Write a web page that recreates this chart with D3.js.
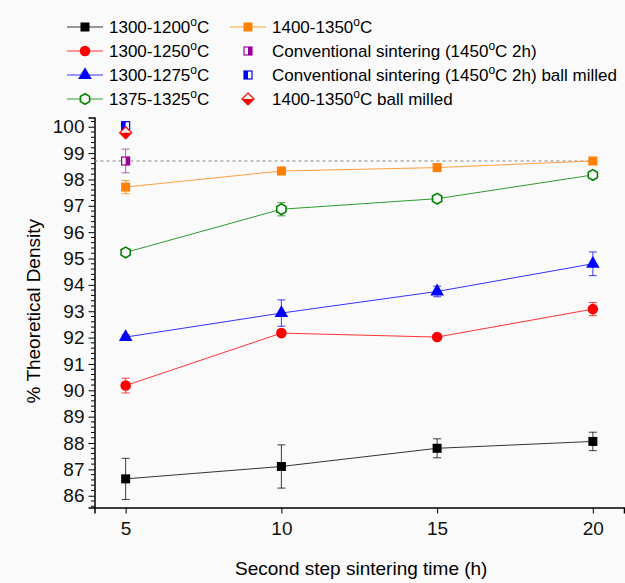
<!DOCTYPE html>
<html>
<head>
<meta charset="utf-8">
<script src="https://cdn.jsdelivr.net/npm/d3@7"></script>
<style>
  body { margin: 0; background: #fafafa; }
  svg { display: block; font-family: Arial, "Liberation Sans", sans-serif; }
</style>
</head>
<body>
<svg></svg>
<script>
const times = [5, 10, 15, 20];

const names = ["1300-1200", "1300-1250", "1300-1275", "1375-1325", "1400-1350"];
const means = [
    [86.64, 87.11, 87.80, 88.06],
    [90.18, 92.17, 92.02, 93.08],
    [92.02, 92.93, 93.75, 94.80],
    [95.23, 96.87, 97.27, 98.17],
    [97.71, 98.32, 98.45, 98.70]
];
const errors = [
    [0.78, 0.82, 0.36, 0.35],
    [0.28, 0.12, 0.06, 0.25],
    [0.08, 0.50, 0.20, 0.45],
    [0.08, 0.25, 0.08, 0.12],
    [0.25, 0.08, 0.12, 0.06]
];
const colors = ["#000000", "#ff0000", "#0000ff", "#008000", "#ff8000"];
const lineColors = ["#333333", "#ff3333", "#3333ff", "#2e9a2e", "#ffa040"];
const shapes = ["square", "circle", "triangle", "hexagon", "square"];

const convTime = 5, convMean = 98.70, convErr = 0.45;
const convMilledMean = 100.04;
const ballMilledMean = 99.77, ballMilledErr = 0.05;
const refLine = 98.70;

const yTicks = d3.range(86, 101, 1);
const xTicks = [5, 10, 15, 20];

const svg = d3.select("svg");
const svg_width = 625;
const svg_height = 583;
svg.attr("width", svg_width).attr("height", svg_height);

const x = d3.scaleLinear().domain([4, 21]).range([94.5, 624]);
const y = d3.scaleLinear().domain([85.55, 100.35]).range([507.6, 117.5]);

// axes
const yAxis = d3.axisLeft(y).tickValues(yTicks).tickSize(6).tickPadding(4);
const gy = svg.append("g").attr("transform", `translate(${x(4)},0)`).call(yAxis);
gy.selectAll("text").attr("font-size", 19).attr("font-family", "Arial, 'Liberation Sans', sans-serif").attr("fill", "#111");
gy.select(".domain").attr("stroke-width", 1.5);

const minor = d3.range(85.6, 100.35, 0.2).filter(v => Math.abs(v - Math.round(v)) > 0.01);
gy.selectAll(".minor").data(minor).join("line")
    .attr("class", "minor")
    .attr("x1", 0).attr("x2", -3.5)
    .attr("y1", d => y(d)).attr("y2", d => y(d))
    .attr("stroke", "#000");

const xAxis = d3.axisBottom(x).tickValues(xTicks).tickSize(6).tickPadding(8);
const gx = svg.append("g").attr("transform", `translate(0,${y(85.55)})`).call(xAxis);
gx.selectAll("text").attr("font-size", 19).attr("font-family", "Arial, 'Liberation Sans', sans-serif").attr("fill", "#111");
gx.select(".domain").attr("stroke-width", 1.5);

svg.append("text")
    .attr("transform", `translate(40,${(y(100) + y(86)) / 2}) rotate(-90)`)
    .attr("text-anchor", "middle")
    .attr("font-size", 19)
    .text("% Theoretical Density");

svg.append("text")
    .attr("x", (x(4) + x(21)) / 2 + 2)
    .attr("y", 575)
    .attr("text-anchor", "middle")
    .attr("font-size", 19)
    .text("Second step sintering time (h)");

// dotted reference
svg.append("line")
    .attr("x1", x(4)).attr("x2", x(20.2))
    .attr("y1", y(refLine)).attr("y2", y(refLine))
    .attr("stroke", "#888").attr("stroke-width", 1.2)
    .attr("stroke-dasharray", "3,3");

function hexPath(r) {
    const pts = d3.range(6).map(i => {
        const a = Math.PI / 6 + i * Math.PI / 3;
        return [r * Math.cos(a), r * Math.sin(a)];
    });
    return "M" + pts.map(p => p.join(",")).join("L") + "Z";
}

function drawMarker(g, shape, color) {
    if (shape === "square") {
        g.append("rect").attr("x", -4.5).attr("y", -4.5).attr("width", 9).attr("height", 9).attr("fill", color);
    } else if (shape === "circle") {
        g.append("circle").attr("r", 5.3).attr("fill", color);
    } else if (shape === "triangle") {
        g.append("path").attr("d", d3.symbol(d3.symbolTriangle, 80)()).attr("fill", color);
    } else if (shape === "hexagon") {
        g.append("path").attr("d", hexPath(5.3)).attr("fill", "#fafafa").attr("stroke", color).attr("stroke-width", 1.6);
    }
}

function errBar(g, cx, m, e, color) {
    g.append("line").attr("x1", cx).attr("x2", cx).attr("y1", y(m - e)).attr("y2", y(m + e))
        .attr("stroke", color).attr("stroke-width", 1).attr("opacity", 0.75);
    [m - e, m + e].forEach(v => {
        g.append("line").attr("x1", cx - 4).attr("x2", cx + 4).attr("y1", y(v)).attr("y2", y(v))
            .attr("stroke", color).attr("stroke-width", 1).attr("opacity", 0.75);
    });
}

const line = d3.line().x(d => x(d[0])).y(d => y(d[1]));
const plot = svg.append("g");

names.forEach((n, i) => {
    const pts = times.map((t, j) => [t, means[i][j]]);
    plot.append("path").attr("d", line(pts)).attr("fill", "none")
        .attr("stroke", lineColors[i]).attr("stroke-width", 1);
});
names.forEach((n, i) => {
    times.forEach((t, j) => {
        errBar(plot, x(t), means[i][j], errors[i][j], colors[i]);
        const g = plot.append("g").attr("transform", `translate(${x(t)},${y(means[i][j])})`);
        drawMarker(g, shapes[i], colors[i]);
    });
});

// conventional sintering (half filled squares)
function halfSquare(g, color, side) {
    g.append("rect").attr("x", -4).attr("y", -4).attr("width", 8).attr("height", 8)
        .attr("fill", "#fafafa").attr("stroke", color).attr("stroke-width", 1.2);
    g.append("rect").attr("x", side === "right" ? 0 : -4).attr("y", -4).attr("width", 4).attr("height", 8)
        .attr("fill", color);
}
function halfDiamond(g, color) {
    g.append("path").attr("d", "M0,-6L6,0L0,6L-6,0Z").attr("fill", "#fafafa").attr("stroke", color).attr("stroke-width", 1.2);
    g.append("path").attr("d", "M-6,0L6,0L0,6Z").attr("fill", color);
}

errBar(plot, x(convTime), convMean, convErr, "#993399");
halfSquare(plot.append("g").attr("transform", `translate(${x(convTime)},${y(convMean)})`), "#990099", "right");
halfSquare(plot.append("g").attr("transform", `translate(${x(convTime)},${y(convMilledMean)})`), "#0000ff", "left");
errBar(plot, x(convTime), ballMilledMean, ballMilledErr, "#ff0000");
halfDiamond(plot.append("g").attr("transform", `translate(${x(convTime)},${y(ballMilledMean)})`), "#ff0000");

// legend
function label(sel, base, rest) {
    sel.append("tspan").text(base);
    sel.append("tspan").attr("font-size", 12).attr("dy", -7).text("o");
    sel.append("tspan").attr("dy", 7).text(rest);
}

const legendRows = [27, 51, 75, 99];
const leg = svg.append("g").attr("font-size", 17);
names.slice(0, 4).forEach((n, i) => {
    const g = leg.append("g").attr("transform", `translate(85,${legendRows[i]})`);
    g.append("line").attr("x1", -18).attr("x2", 18).attr("stroke", lineColors[i]).attr("stroke-width", 1);
    drawMarker(g, shapes[i], colors[i]);
    label(g.append("text").attr("x", 24).attr("dy", "0.35em"), n, "C");
});
{
    const g = leg.append("g").attr("transform", `translate(248,${legendRows[0]})`);
    g.append("line").attr("x1", -18).attr("x2", 18).attr("stroke", lineColors[4]).attr("stroke-width", 1);
    drawMarker(g, shapes[4], colors[4]);
    label(g.append("text").attr("x", 24).attr("dy", "0.35em"), names[4], "C");

    const g2 = leg.append("g").attr("transform", `translate(248,${legendRows[1]})`);
    halfSquare(g2, "#990099", "right");
    label(g2.append("text").attr("x", 24).attr("dy", "0.35em"), "Conventional sintering (1450", "C 2h)");

    const g3 = leg.append("g").attr("transform", `translate(248,${legendRows[2]})`);
    halfSquare(g3, "#0000ff", "left");
    label(g3.append("text").attr("x", 24).attr("dy", "0.35em"), "Conventional sintering (1450", "C 2h) ball milled");

    const g4 = leg.append("g").attr("transform", `translate(248,${legendRows[3]})`);
    halfDiamond(g4, "#ff0000");
    label(g4.append("text").attr("x", 24).attr("dy", "0.35em"), "1400-1350", "C ball milled");
}
</script>
</body>
</html>
